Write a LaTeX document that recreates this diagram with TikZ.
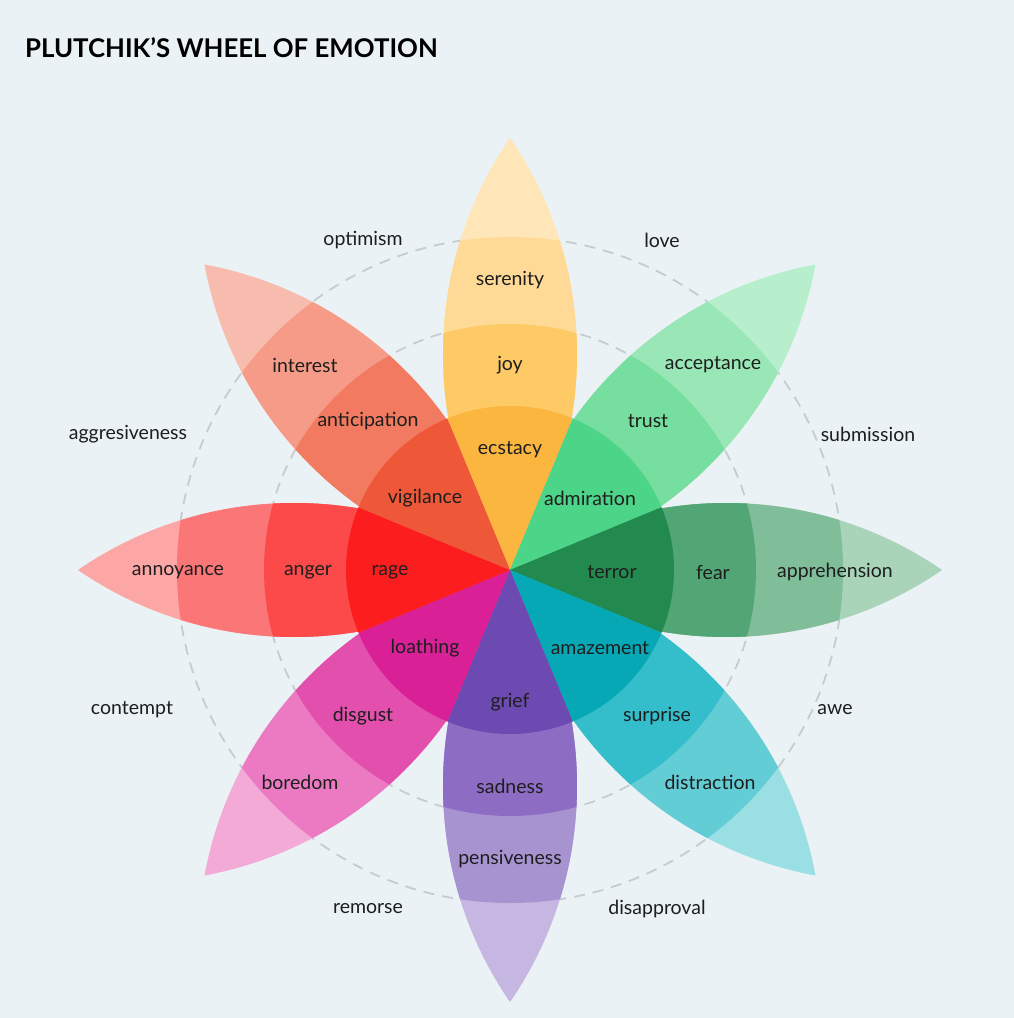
\documentclass[tikz,border=0pt]{standalone}
\usepackage{fontspec}
\setmainfont{Lato}
\definecolor{bgc}{HTML}{EAF2F5}
\definecolor{ringc}{HTML}{C6CCD0}
\definecolor{txt}{HTML}{1E1E1E}
% joy
\definecolor{joyA}{HTML}{FBB640}\definecolor{joyB}{HTML}{FDCA66}\definecolor{joyC}{HTML}{FEDA96}\definecolor{joyD}{HTML}{FFE6B8}
% trust
\definecolor{truA}{HTML}{4CD488}\definecolor{truB}{HTML}{76DE9E}\definecolor{truC}{HTML}{99E7B6}\definecolor{truD}{HTML}{B7EECC}
% fear
\definecolor{feaA}{HTML}{228A4E}\definecolor{feaB}{HTML}{52A676}\definecolor{feaC}{HTML}{80BD99}\definecolor{feaD}{HTML}{A9D4BA}
% surprise
\definecolor{surA}{HTML}{07A8B6}\definecolor{surB}{HTML}{34BDCA}\definecolor{surC}{HTML}{63CDD6}\definecolor{surD}{HTML}{99DFE4}
% sadness
\definecolor{sadA}{HTML}{6D4AB1}\definecolor{sadB}{HTML}{8C6DC3}\definecolor{sadC}{HTML}{A893D1}\definecolor{sadD}{HTML}{C6B7E2}
% disgust
\definecolor{disA}{HTML}{DA2096}\definecolor{disB}{HTML}{E34FAD}\definecolor{disC}{HTML}{EB7AC2}\definecolor{disD}{HTML}{F3AAD7}
% anger
\definecolor{angA}{HTML}{FC1E1E}\definecolor{angB}{HTML}{FC4949}\definecolor{angC}{HTML}{FB7676}\definecolor{angD}{HTML}{FCA6A6}
% anticipation
\definecolor{antA}{HTML}{EE5838}\definecolor{antB}{HTML}{F17A60}\definecolor{antC}{HTML}{F59B87}\definecolor{antD}{HTML}{F8BCAE}

\newcommand\plpetal[4]{%
  \begin{scope}[rotate=#1]
    \clip (216,-314.68) circle[radius=381.68];
    \clip (216,314.68) circle[radius=381.68];
    \fill[#2] (0,0) circle[radius=450];
    \fill[#3] (0,0) circle[radius=333];
    \fill[#4] (0,0) circle[radius=246];
  \end{scope}}
\newcommand\plsector[2]{%
  \fill[#2] (0,0) -- ({#1-22.5}:164) arc[start angle={#1-22.5}, end angle={#1+22.5}, radius=164] -- cycle;}

\tikzset{
  lbl/.style={text=txt, font=\fontsize{19.5}{22}\selectfont, inner sep=0pt, anchor=center, yshift=-2pt},
  ring/.style={draw=ringc, line width=1.8pt, dash pattern=on 11pt off 8pt},
  ttl/.style={text=black, font=\fontsize{25.8}{30}\selectfont\bfseries, inner sep=0pt, anchor=base west}
}

\begin{document}
\begin{tikzpicture}[x=1pt,y=1pt]
\useasboundingbox (-510,-448) rectangle (504,570);
\fill[bgc] (-510,-448) rectangle (504,570);

\draw[ring] (0,0) circle[radius=246];
\draw[ring] (0,0) circle[radius=333];

\plpetal{90}{joyD}{joyC}{joyB}
\plpetal{45}{truD}{truC}{truB}
\plpetal{0}{feaD}{feaC}{feaB}
\plpetal{-45}{surD}{surC}{surB}
\plpetal{-90}{sadD}{sadC}{sadB}
\plpetal{-135}{disD}{disC}{disB}
\plpetal{180}{angD}{angC}{angB}
\plpetal{135}{antD}{antC}{antB}

\plsector{90}{joyA}
\plsector{45}{truA}
\plsector{0}{feaA}
\plsector{-45}{surA}
\plsector{-90}{sadA}
\plsector{-135}{disA}
\plsector{180}{angA}
\plsector{135}{antA}

\node[ttl] (title) at (-485,512) {PLUTCHIK’S WHEEL OF EMOTION};

% petal labels
\node[lbl] (serenity) at (0,292) {serenity};
\node[lbl] (joy) at (0,207) {joy};
\node[lbl] (ecstacy) at (0,122) {ecstacy};
\node[lbl] (interest) at (-205,207) {interest};
\node[lbl] (anticipation) at (-142,151) {anticipation};
\node[lbl] (vigilance) at (-85,74) {vigilance};
\node[lbl] (acceptance) at (203,207) {acceptance};
\node[lbl] (trust) at (138,151) {trust};
\node[lbl] (admiration) at (80,74) {admiration};
\node[lbl] (annoyance) at (-332,0) {annoyance};
\node[lbl] (anger) at (-202,0) {anger};
\node[lbl] (rage) at (-120,0) {rage};
\node[lbl] (terror) at (102,0) {terror};
\node[lbl] (fear) at (203,0) {fear};
\node[lbl] (apprehension) at (325,0) {apprehension};
\node[lbl] (loathing) at (-85,-76) {loathing};
\node[lbl] (disgust) at (-147,-144) {disgust};
\node[lbl] (boredom) at (-210,-210) {boredom};
\node[lbl] (amazement) at (90,-76) {amazement};
\node[lbl] (surprise) at (147,-144) {surprise};
\node[lbl] (distraction) at (200,-210) {distraction};
\node[lbl] (grief) at (0,-130) {grief};
\node[lbl] (sadness) at (0,-214) {sadness};
\node[lbl] (pensiveness) at (0,-287) {pensiveness};

% dyads
\node[lbl] (optimism) at (-147,332) {optimism};
\node[lbl] (love) at (152,332) {love};
\node[lbl] (aggresiveness) at (-382,138) {aggresiveness};
\node[lbl] (submission) at (358,138) {submission};
\node[lbl] (contempt) at (-378,-138) {contempt};
\node[lbl] (awe) at (325,-138) {awe};
\node[lbl] (remorse) at (-142,-337) {remorse};
\node[lbl] (disapproval) at (147,-337) {disapproval};
\end{tikzpicture}
\end{document}
